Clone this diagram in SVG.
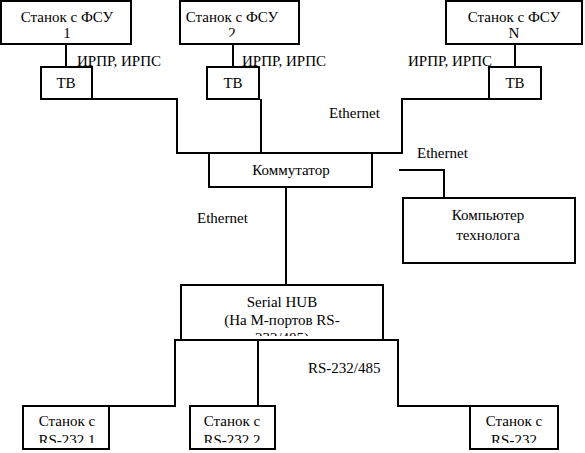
<svg xmlns="http://www.w3.org/2000/svg" width="585" height="453" viewBox="0 0 585 453" font-family="'Liberation Serif','Times New Roman',serif">
<style>
.box{fill:#fff;stroke:#000;stroke-width:2}
.ln{fill:none;stroke:#000;stroke-width:2}
text{font-family:"Liberation Serif","Times New Roman",serif;font-size:15px;fill:#000}
.c{text-anchor:middle}
</style>
<defs>
<clipPath id="cT1"><rect x="2" y="2" width="128" height="39"/></clipPath>
<clipPath id="cT2"><rect x="181" y="2" width="117" height="35"/></clipPath>
<clipPath id="cT3"><rect x="447" y="2" width="134" height="39"/></clipPath>
<clipPath id="cHub"><rect x="182" y="286" width="200" height="50"/></clipPath>
<clipPath id="cB1"><rect x="24" y="407" width="84" height="36"/></clipPath>
<clipPath id="cB2"><rect x="191" y="407" width="83" height="36"/></clipPath>
<clipPath id="cB3"><rect x="471" y="407" width="86" height="36"/></clipPath>
</defs>
<rect width="585" height="453" fill="#fff"/>
<g id="connectors">
<line class="ln" x1="66" y1="44" x2="66" y2="67"/>
<line class="ln" x1="233" y1="44" x2="233" y2="67"/>
<line class="ln" x1="515" y1="44" x2="515" y2="67"/>
<polyline class="ln" points="92,99 177,99 177,153 402,153 402,99 489,99"/>
<line class="ln" x1="261" y1="99" x2="261" y2="153"/>
<line class="ln" x1="286" y1="187" x2="286" y2="285"/>
<polyline class="ln" points="399,170 444,170 444,198"/>
<polyline class="ln" points="110,406 175,406 175,340 398,340 398,406 470,406"/>
<line class="ln" x1="258" y1="340" x2="258" y2="406"/>
<text x="77" y="66">ИРПР, ИРПС</text>
<text x="242" y="66">ИРПР, ИРПС</text>
<text x="408" y="66">ИРПР, ИРПС</text>
<text x="329" y="118">Ethernet</text>
<text x="417" y="158">Ethernet</text>
<text x="197" y="223">Ethernet</text>
<text x="308" y="373">RS-232/485</text>
</g>
<g id="st1">
<rect class="box" x="1" y="1" width="130" height="43"/>
<g clip-path="url(#cT1)"><text class="c" x="67" y="22">Станок с ФСУ</text><text class="c" x="67" y="38">1</text></g>
</g>
<g id="st2">
<rect class="box" x="180" y="1" width="119" height="43"/>
<g clip-path="url(#cT2)"><text class="c" x="232" y="22">Станок с ФСУ</text><text class="c" x="232" y="38">2</text></g>
</g>
<g id="stN">
<rect class="box" x="446" y="1" width="136" height="43"/>
<g clip-path="url(#cT3)"><text class="c" x="514" y="22">Станок с ФСУ</text><text class="c" x="514" y="38">N</text></g>
</g>
<g id="tb1"><rect class="box" x="41" y="67" width="51" height="32"/><text class="c" x="66" y="88">ТВ</text></g>
<g id="tb2"><rect class="box" x="207" y="67" width="52" height="32"/><text class="c" x="233" y="88">ТВ</text></g>
<g id="tb3"><rect class="box" x="489" y="67" width="52" height="32"/><text class="c" x="515" y="88">ТВ</text></g>
<g id="switch"><rect class="box" x="209" y="153" width="163" height="34"/><text class="c" x="291" y="175">Коммутатор</text></g>
<g id="pc"><rect class="box" x="403" y="198" width="172" height="65"/><text class="c" x="488" y="220">Компьютер</text><text class="c" x="488" y="240">технолога</text></g>
<g id="hub">
<rect class="box" x="181" y="285" width="202" height="55"/>
<g clip-path="url(#cHub)"><text class="c" x="282" y="307">Serial HUB</text><text class="c" x="282" y="325">(На М-портов RS-</text><text class="c" x="282" y="343">232/485)</text></g>
<line class="ln" x1="175" y1="340" x2="398" y2="340"/>
</g>
<g id="rs1">
<rect class="box" x="23" y="406" width="86" height="43"/>
<g clip-path="url(#cB1)"><text class="c" x="67" y="426">Станок с</text><text class="c" x="67" y="445">RS-232 1</text></g>
</g>
<g id="rs2">
<rect class="box" x="190" y="406" width="85" height="43"/>
<g clip-path="url(#cB2)"><text class="c" x="232" y="426">Станок с</text><text class="c" x="232" y="445">RS-232 2</text></g>
</g>
<g id="rs3">
<rect class="box" x="470" y="406" width="88" height="43"/>
<g clip-path="url(#cB3)"><text class="c" x="514" y="426">Станок с</text><text class="c" x="514" y="445">RS-232</text></g>
</g>
</svg>
